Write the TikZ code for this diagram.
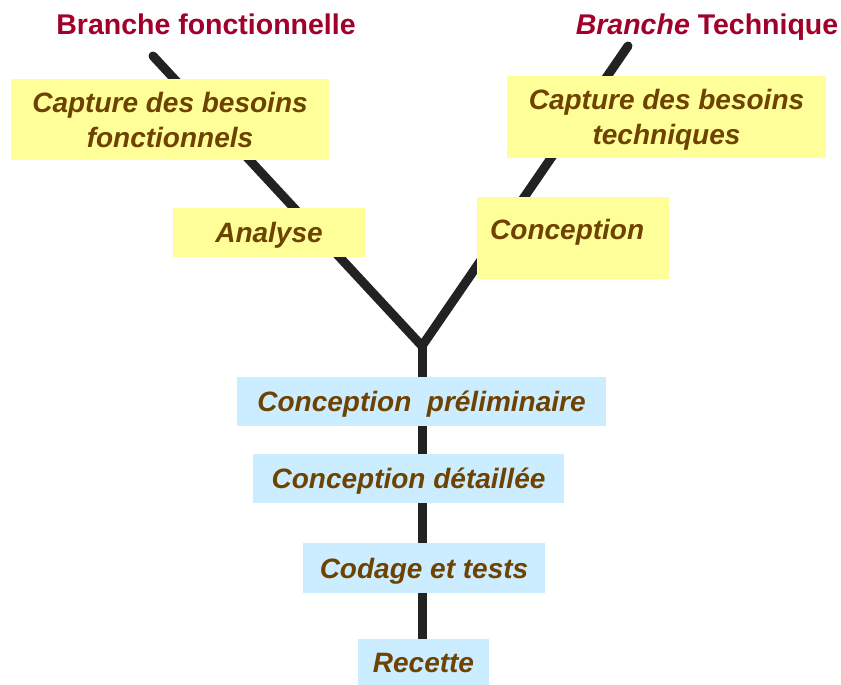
\documentclass[tikz,border=0pt]{standalone}
\usepackage{fontspec}
\setmainfont{Liberation Sans}
\definecolor{branchred}{HTML}{A0002A}
\definecolor{stepbrown}{HTML}{6E4200}
\definecolor{stickyyellow}{HTML}{FFFF99}
\definecolor{paleblue}{HTML}{CCECFF}
\definecolor{trunkgray}{HTML}{222222}
\begin{document}
\begin{tikzpicture}[x=1pt,y=-1pt,
  stem/.style={draw=trunkgray,line width=9pt,line cap=round,line join=miter},
  boxbase/.style={inner sep=0pt,font=\fontsize{28}{35}\selectfont\bfseries\itshape,text=stepbrown,align=center,text height=20pt,text depth=0pt},
  twolines/.style={text height=55pt},
  ybox/.style={boxbase,fill=stickyyellow},
  bbox/.style={boxbase,fill=paleblue},
  steptext/.style={inner sep=0pt,font=\fontsize{28}{35}\selectfont\bfseries\itshape,text=stepbrown,text height=20pt,text depth=0pt},
  heading/.style={inner sep=0pt,font=\fontsize{28.5}{30}\selectfont\bfseries,text=branchred,text height=20pt,text depth=0pt}]
\useasboundingbox[fill=white] (0,0) rectangle (841,685);

% the Y-shaped process: two branches joining into one trunk
\coordinate (ltop) at (153,56);
\coordinate (rtop) at (628,46);
\coordinate (fork) at (422,346);
\coordinate (tbot) at (422,660);
\draw[stem] (ltop) -- (fork) -- (rtop);
\draw[stem,line cap=butt] (fork) -- (tbot);

% branch headings
\node[heading] (hf) at (206,25) {Branche fonctionnelle};
\node[heading] (ht) at (707,25) {\itshape Branche\upshape{} Technique};

% functional branch
\node[ybox,twolines,minimum width=318pt,minimum height=81pt] (bf) at (170,119.5) {Capture des besoins\\fonctionnels};
\node[ybox,minimum width=192pt,minimum height=49pt] (an) at (269,232.5) {Analyse};

% technical branch
\node[ybox,twolines,minimum width=319pt,minimum height=82pt] (bt) at (666.5,117) {Capture des besoins\\techniques};
\node[ybox,minimum width=192pt,minimum height=82pt] (co) at (573,238) {};
\node[steptext,anchor=west] (cot) at (490,229) {Conception};

% common trunk
\node[bbox,minimum width=369pt,minimum height=49pt] (cp) at (421.5,401.5) {Conception~~préliminaire};
\node[bbox,minimum width=311pt,minimum height=49pt] (cd) at (408.5,478.5) {Conception détaillée};
\node[bbox,minimum width=242pt,minimum height=50pt] (ct) at (424,568) {Codage et tests};
\node[bbox,minimum width=131pt,minimum height=47pt] (re) at (423.5,662.5) {Recette};
\end{tikzpicture}
\end{document}
